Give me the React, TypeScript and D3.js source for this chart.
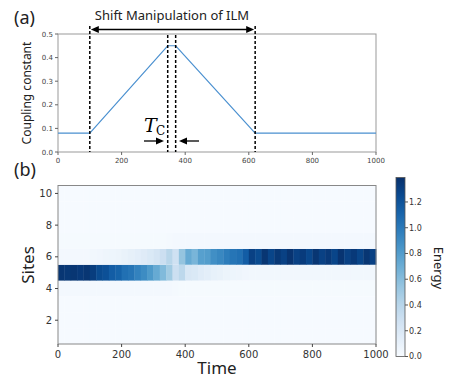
import React from "react";
import * as d3 from "d3";

// coupling constant vs time (panel a)
const couplingTime = [0, 100, 345, 370, 620, 1000];
const couplingValue = [0.08, 0.08, 0.45, 0.45, 0.08, 0.08];
const markerTimes = [100, 345, 370, 620];
const topYTicks = [0, 0.1, 0.2, 0.3, 0.4, 0.5];
const timeTicks = [0, 200, 400, 600, 800, 1000];

// energy per site, one value every 20 time units (panel b)
const siteLow = [0.01, 0.01, 0.01, 0.01, 0.01, 0.01, 0.01, 0.01, 0.01, 0.01, 0.01, 0.01, 0.01, 0.01, 0.01, 0.01, 0.01, 0.01, 0.01, 0.01, 0.01, 0.01, 0.01, 0.01, 0.01, 0.01, 0.01, 0.01, 0.01, 0.01, 0.01, 0.01, 0.01, 0.01, 0.01, 0.01, 0.01, 0.01, 0.01, 0.01, 0.01, 0.01, 0.01, 0.01, 0.01, 0.01, 0.01, 0.01, 0.01, 0.01];
const site4 = [0.03, 0.03, 0.03, 0.03, 0.03, 0.03, 0.03, 0.03, 0.03, 0.03, 0.03, 0.03, 0.03, 0.03, 0.03, 0.03, 0.03, 0.03, 0.02, 0.015, 0.015, 0.015, 0.015, 0.015, 0.015, 0.015, 0.015, 0.015, 0.015, 0.015, 0.015, 0.015, 0.015, 0.015, 0.015, 0.015, 0.015, 0.015, 0.015, 0.015, 0.015, 0.015, 0.015, 0.015, 0.015, 0.015, 0.015, 0.015, 0.015, 0.015];
const site5 = [1.36, 1.35, 1.36, 1.34, 1.36, 1.32, 1.25, 1.22, 1.15, 1.12, 1.05, 1.02, 0.95, 0.9, 0.82, 0.72, 0.62, 0.5, 0.3, 0.38, 0.22, 0.2, 0.16, 0.14, 0.11, 0.1, 0.08, 0.07, 0.06, 0.05, 0.04, 0.04, 0.04, 0.04, 0.04, 0.04, 0.04, 0.04, 0.04, 0.04, 0.04, 0.04, 0.04, 0.04, 0.04, 0.04, 0.04, 0.04, 0.04, 0.04];
const site6 = [0.03, 0.03, 0.03, 0.03, 0.03, 0.04, 0.05, 0.06, 0.07, 0.08, 0.1, 0.12, 0.14, 0.17, 0.2, 0.24, 0.3, 0.4, 0.28, 0.55, 0.72, 0.65, 0.78, 0.8, 0.88, 0.92, 0.98, 1.02, 1.05, 1.15, 1.3, 1.25, 1.36, 1.28, 1.35, 1.3, 1.37, 1.3, 1.33, 1.27, 1.36, 1.3, 1.34, 1.28, 1.37, 1.3, 1.34, 1.28, 1.36, 1.3];
const site7 = [0.015, 0.015, 0.015, 0.015, 0.015, 0.015, 0.015, 0.015, 0.015, 0.015, 0.015, 0.015, 0.015, 0.015, 0.015, 0.015, 0.015, 0.02, 0.03, 0.03, 0.03, 0.03, 0.03, 0.03, 0.03, 0.03, 0.03, 0.03, 0.03, 0.03, 0.03, 0.03, 0.03, 0.03, 0.03, 0.03, 0.03, 0.03, 0.03, 0.03, 0.03, 0.03, 0.03, 0.03, 0.03, 0.03, 0.03, 0.03, 0.03, 0.03];
const siteRows = [siteLow, siteLow, siteLow, site4, site5, site6, site7, siteLow, siteLow, siteLow];
const siteTicks = [2, 4, 6, 8, 10];
const energyTicks = [0, 0.2, 0.4, 0.6, 0.8, 1.0, 1.2];
const energyMax = 1.39;
const step = 20;

const tickFont = "DejaVu Sans, sans-serif";
const labelFont = "Noto Sans, sans-serif";

export default function App() {
  // panel a
  const xa = d3.scaleLinear().domain([0, 1000]).range([58, 376]);
  const ya = d3.scaleLinear().domain([0, 0.5]).range([152, 34]);
  const line = d3
    .line<number>()
    .x((d, i) => xa(couplingTime[i]))
    .y((d) => ya(d));

  // panel b
  const xb = d3.scaleLinear().domain([0, 1000]).range([58, 376]);
  const yb = d3.scaleLinear().domain([0.5, 10.5]).range([344, 185.5]);
  const color = d3.scaleSequential(d3.interpolateBlues).domain([0, energyMax]);
  const yc = d3.scaleLinear().domain([0, energyMax]).range([356.5, 177.5]);

  const arrowHead = (x: number, y: number, dir: number) =>
    `M${x},${y}L${x - dir * 8},${y - 3.5}L${x - dir * 8},${y + 3.5}Z`;

  const cells: JSX.Element[] = [];
  siteRows.forEach((row, si) => {
    const site = si + 1;
    row.forEach((v, ti) => {
      const x0 = xb(ti * step);
      const x1 = xb((ti + 1) * step);
      cells.push(
        <rect
          key={`${si}-${ti}`}
          x={x0}
          y={yb(site + 0.5)}
          width={x1 - x0 + 0.4}
          height={yb(site - 0.5) - yb(site + 0.5)}
          fill={color(v)}
        />
      );
    });
  });

  const gradStops = d3.range(0, 11).map((i) => i / 10);

  return (
    <svg width={449} height={379} style={{ position: "absolute", left: 0, top: 0, background: "#fff" }}>
      <defs>
        <linearGradient id="cb" x1="0" y1="1" x2="0" y2="0">
          {gradStops.map((s) => (
            <stop key={s} offset={s} stopColor={d3.interpolateBlues(s)} />
          ))}
        </linearGradient>
      </defs>

      {/* ---------- panel (a) ---------- */}
      <text x={14} y={24} fontFamily={labelFont} fontSize={18} fill="#222">(a)</text>
      <text x={172} y={20} textAnchor="middle" fontFamily={labelFont} fontSize={13} fill="#222">
        Shift Manipulation of ILM
      </text>
      <rect x={58} y={34} width={318} height={118} fill="none" stroke="#999" strokeWidth={1} />
      <path d={line(couplingValue) ?? ""} fill="none" stroke="#4a90d0" strokeWidth={1.1} />
      {topYTicks.map((t) => (
        <g key={t}>
          <line x1={55} x2={58} y1={ya(t)} y2={ya(t)} stroke="#666" />
          <text x={53} y={ya(t) + 2.5} textAnchor="end" fontFamily={tickFont} fontSize={7} fill="#444">
            {t.toFixed(1)}
          </text>
        </g>
      ))}
      {timeTicks.map((t) => (
        <g key={t}>
          <line x1={xa(t)} x2={xa(t)} y1={152} y2={155} stroke="#666" />
          <text x={xa(t)} y={163} textAnchor="middle" fontFamily={tickFont} fontSize={7} fill="#444">
            {t}
          </text>
        </g>
      ))}
      <text
        transform={`translate(31,93) rotate(-90)`}
        textAnchor="middle"
        fontFamily={labelFont}
        fontSize={12}
        fill="#222"
      >
        Coupling constant
      </text>
      {markerTimes.map((t, i) => (
        <line
          key={t}
          x1={xa(t)}
          x2={xa(t)}
          y1={i === 0 || i === 3 ? 26 : 35}
          y2={152}
          stroke="#000"
          strokeWidth={1.5}
          strokeDasharray="3,2"
        />
      ))}
      {/* double arrow */}
      <line x1={xa(100) + 6} x2={xa(620) - 6} y1={29.5} y2={29.5} stroke="#000" strokeWidth={1.3} />
      <path d={arrowHead(xa(100) + 1, 29.5, -1)} fill="#000" />
      <path d={arrowHead(xa(620) - 1, 29.5, 1)} fill="#000" />
      {/* T_C */}
      <text x={144} y={132} fontFamily="DejaVu Serif, serif" fontStyle="italic" fontSize={19} fill="#000">T</text>
      <text x={156} y={135} fontFamily="DejaVu Serif, serif" fontSize={12} fill="#000">C</text>
      <line x1={144} x2={158} y1={141} y2={141} stroke="#000" strokeWidth={1.3} />
      <path d={arrowHead(164, 141, 1)} fill="#000" />
      <line x1={185} x2={199} y1={141} y2={141} stroke="#000" strokeWidth={1.3} />
      <path d={arrowHead(179, 141, -1)} fill="#000" />

      {/* ---------- panel (b) ---------- */}
      <text x={14} y={176} fontFamily={labelFont} fontSize={18} fill="#222">(b)</text>
      {cells}
      <rect x={58} y={185.5} width={318} height={158.5} fill="none" stroke="#888" strokeWidth={1} />
      {siteTicks.map((s) => (
        <g key={s}>
          <line x1={55} x2={58} y1={yb(s)} y2={yb(s)} stroke="#444" />
          <text x={52} y={yb(s) + 3.5} textAnchor="end" fontFamily={tickFont} fontSize={10} fill="#333">
            {s}
          </text>
        </g>
      ))}
      {timeTicks.map((t) => (
        <g key={t}>
          <line x1={xb(t)} x2={xb(t)} y1={344} y2={347} stroke="#444" />
          <text x={xb(t)} y={358} textAnchor="middle" fontFamily={tickFont} fontSize={10} fill="#333">
            {t}
          </text>
        </g>
      ))}
      <text x={217} y={374} textAnchor="middle" fontFamily={labelFont} fontSize={17} fill="#222">Time</text>
      <text
        transform={`translate(34,265) rotate(-90)`}
        textAnchor="middle"
        fontFamily={labelFont}
        fontSize={17}
        fill="#222"
      >
        Sites
      </text>

      {/* colorbar */}
      <rect x={396} y={177.5} width={9} height={179} fill="url(#cb)" stroke="#555" strokeWidth={0.8} />
      {energyTicks.map((e) => (
        <g key={e}>
          <line x1={405} x2={408} y1={yc(e)} y2={yc(e)} stroke="#555" />
          <text x={409} y={yc(e) + 2.8} fontFamily={tickFont} fontSize={8} fill="#333">
            {e.toFixed(1)}
          </text>
        </g>
      ))}
      <text
        transform={`translate(434,268) rotate(90)`}
        textAnchor="middle"
        fontFamily={labelFont}
        fontSize={13}
        fill="#222"
      >
        Energy
      </text>
    </svg>
  );
}
